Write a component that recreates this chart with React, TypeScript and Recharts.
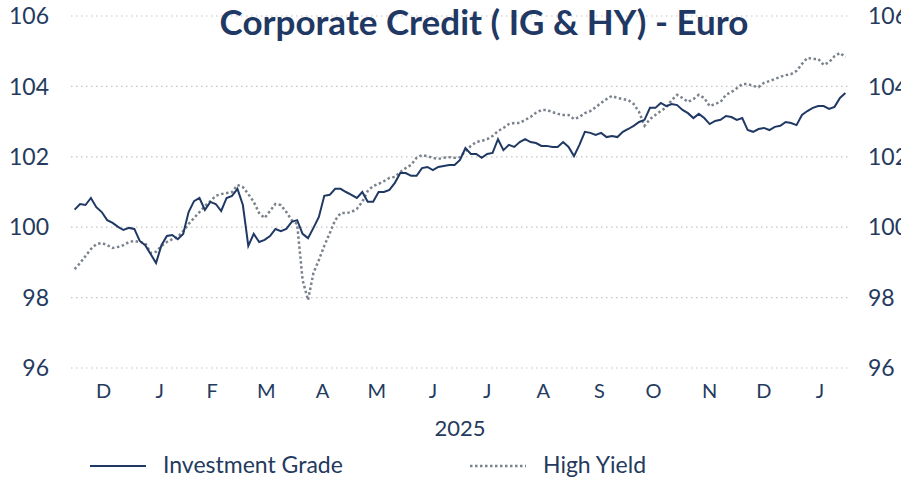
import { LineChart, Line, XAxis, YAxis, CartesianGrid, Legend } from 'recharts';

// Euro corporate credit total return indices (rebased), roughly every 3 days, Dec 2024 - Jan 2026
const investmentGrade = [
  100.5, 100.66, 100.63, 100.83, 100.57, 100.43, 100.2, 100.12, 100.01, 99.92,
  99.98, 99.95, 99.61, 99.49, 99.24, 98.98, 99.49, 99.75, 99.78, 99.66,
  99.81, 100.43, 100.74, 100.83, 100.49, 100.72, 100.66, 100.46, 100.83, 100.89,
  101.09, 100.63, 99.47, 99.81, 99.58, 99.64, 99.75, 99.95, 99.89, 99.95,
  100.15, 100.2, 99.81, 99.69, 99.98, 100.29, 100.89, 100.92, 101.09, 101.09,
  101.0, 100.92, 100.83, 101.0, 100.72, 100.72, 101.0, 101.0, 101.06, 101.26,
  101.54, 101.54, 101.46, 101.46, 101.68, 101.71, 101.62, 101.71, 101.74, 101.77,
  101.77, 101.91, 102.25, 102.08, 102.08, 101.97, 102.08, 102.11, 102.5, 102.19,
  102.34, 102.28, 102.42, 102.5, 102.42, 102.39, 102.31, 102.31, 102.28, 102.28,
  102.42, 102.28, 102.02, 102.34, 102.71, 102.68, 102.62, 102.68, 102.56, 102.59,
  102.56, 102.71, 102.79, 102.88, 102.99, 103.05, 103.39, 103.39, 103.53, 103.44,
  103.5, 103.47, 103.33, 103.24, 103.1, 103.22, 103.1, 102.93, 103.02, 103.05,
  103.16, 103.13, 103.05, 103.1, 102.76, 102.71, 102.79, 102.82, 102.76, 102.85,
  102.88, 102.99, 102.96, 102.9, 103.19, 103.3, 103.39, 103.44, 103.44, 103.36,
  103.42, 103.67, 103.81,
];

const highYield = [
  98.81, 98.98, 99.18, 99.38, 99.52, 99.55, 99.49, 99.41, 99.44, 99.49,
  99.58, 99.61, 99.58, 99.55, 99.27, 99.3, 99.47, 99.58, 99.66, 99.72,
  99.89, 100.09, 100.26, 100.43, 100.6, 100.74, 100.89, 100.94, 100.97, 101.0,
  101.2, 101.14, 100.94, 100.72, 100.4, 100.26, 100.46, 100.66, 100.63, 100.43,
  100.2, 100.09, 98.5, 97.93, 98.7, 99.07, 99.47, 99.83, 100.2, 100.4,
  100.4, 100.43, 100.52, 100.72, 101.03, 101.17, 101.23, 101.31, 101.4, 101.43,
  101.57, 101.68, 101.77, 101.97, 102.05, 102.02, 101.97, 101.94, 101.97, 101.99,
  101.97, 101.99, 102.16, 102.31, 102.42, 102.45, 102.5, 102.59, 102.73, 102.82,
  102.93, 102.96, 102.96, 103.05, 103.13, 103.25, 103.33, 103.33, 103.27, 103.22,
  103.19, 103.19, 103.07, 103.13, 103.24, 103.3, 103.41, 103.53, 103.64, 103.73,
  103.67, 103.64, 103.61, 103.5, 103.27, 102.88, 103.07, 103.19, 103.3, 103.41,
  103.61, 103.76, 103.67, 103.56, 103.64, 103.76, 103.67, 103.44, 103.5, 103.56,
  103.76, 103.84, 103.95, 104.07, 104.07, 104.01, 103.98, 104.1, 104.15, 104.21,
  104.27, 104.32, 104.35, 104.44, 104.64, 104.81, 104.78, 104.78, 104.61, 104.69,
  104.86, 104.95, 104.83,
];

// day offsets from 1 Dec 2024
const days = investmentGrade.map((_, i) => -1 + 3 * i);

const monthTicks = [15, 46, 75, 105, 136, 166, 197, 227, 258, 289, 319, 350, 380, 411];
const monthLabels = ['D', 'J', 'F', 'M', 'A', 'M', 'J', 'J', 'A', 'S', 'O', 'N', 'D', 'J'];
const yTicks = [96, 98, 100, 102, 104, 106];

const data = days.map((day, i) => ({ day, ig: investmentGrade[i], hy: highYield[i] }));

const navy = '#1f3864';
const textColor = '#243a5e';
const grey = '#7a828c';
const font = 'Lato, "Open Sans", sans-serif';

function ChartLegend() {
  return (
    <div style={{ position: 'relative', height: 38, width: 901, fontFamily: font, fontSize: 23, color: textColor }}>
      <svg style={{ position: 'absolute', left: 90, top: 19 }} width={56} height={8}>
        <line x1={0} y1={4} x2={56} y2={4} stroke={navy} strokeWidth={2} />
      </svg>
      <span style={{ position: 'absolute', left: 163, top: 7 }}>Investment Grade</span>
      <svg style={{ position: 'absolute', left: 470, top: 19 }} width={56} height={8}>
        <line x1={0} y1={4} x2={56} y2={4} stroke={grey} strokeWidth={2.5} strokeDasharray="2.5 2.5" />
      </svg>
      <span style={{ position: 'absolute', left: 543, top: 7 }}>High Yield</span>
    </div>
  );
}

export default function App() {
  const tickStyle = { fontSize: 23, fill: textColor, fontFamily: font };
  return (
    <div style={{ position: 'absolute', left: 0, top: 0, width: 901, height: 481, background: 'white' }}>
      <div
        style={{
          position: 'absolute',
          left: 484,
          top: 0,
          transform: 'translateX(-50%)',
          whiteSpace: 'nowrap',
          fontFamily: font,
          fontWeight: 700,
          fontSize: 35,
          color: navy,
          zIndex: 2,
        }}
      >
        Corporate Credit ( IG &amp; HY) - Euro
      </div>
      <LineChart width={901} height={481} data={data} margin={{ top: 16, right: 0, bottom: 0, left: 0 }}>
        <CartesianGrid
          yAxisId="left"
          vertical={false}
          stroke="#c4c4c4"
          strokeDasharray="1.5 3.5"
          strokeWidth={1.2}
        />
        <XAxis
          dataKey="day"
          type="number"
          domain={[-3, 427]}
          ticks={monthTicks}
          tickFormatter={(v: number) => monthLabels[monthTicks.indexOf(v)] ?? ''}
          tick={{ fontSize: 20, fill: textColor, fontFamily: font }}
          tickLine={false}
          axisLine={false}
          tickMargin={10}
          height={75}
          interval={0}
          label={{ value: '2025', position: 'insideBottom', offset: 7, fontSize: 22, fill: textColor, fontFamily: font }}
        />
        <YAxis
          yAxisId="left"
          domain={[96, 106]}
          ticks={yTicks}
          tick={tickStyle}
          tickLine={false}
          axisLine={false}
          tickMargin={16}
          width={71}
          interval={0}
        />
        <YAxis
          yAxisId="right"
          orientation="right"
          domain={[96, 106]}
          ticks={yTicks}
          tick={tickStyle}
          tickLine={false}
          axisLine={false}
          tickMargin={13}
          width={52}
          interval={0}
        />
        <Legend verticalAlign="bottom" height={38} wrapperStyle={{ left: 0, width: 901 }} content={() => <ChartLegend />} />
        <Line
          yAxisId="right"
          type="linear"
          dataKey="hy"
          stroke={grey}
          strokeWidth={2.5}
          strokeDasharray="2.5 2.5"
          dot={false}
          isAnimationActive={false}
        />
        <Line
          yAxisId="left"
          type="linear"
          dataKey="ig"
          stroke={navy}
          strokeWidth={2}
          dot={false}
          isAnimationActive={false}
        />
      </LineChart>
    </div>
  );
}
